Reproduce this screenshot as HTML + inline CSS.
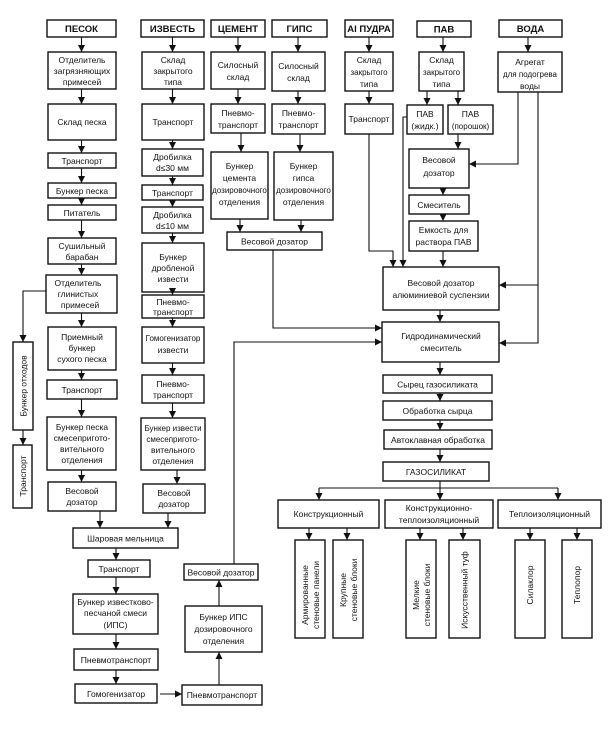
<!DOCTYPE html>
<html><head><meta charset="utf-8"><style>
html,body{margin:0;padding:0;background:#fff;}
svg{display:block;}
text{font-family:"Liberation Sans","DejaVu Sans",sans-serif;font-size:8.5px;fill:#111;text-anchor:middle;}
.b{font-weight:bold;font-size:9.5px;}
.s{font-size:8px;}
rect{fill:#fff;stroke:#111;stroke-width:1.4;}
line,polyline{stroke:#111;stroke-width:1.1;fill:none;}
</style></head><body>
<svg width="615" height="738" viewBox="0 0 615 738" xmlns="http://www.w3.org/2000/svg">
<defs><marker id="a" viewBox="0 0 8 8" refX="8" refY="4" markerWidth="7" markerHeight="7" orient="auto" markerUnits="userSpaceOnUse"><path d="M0,0 L8,4 L0,8 z" fill="#111"/></marker></defs>

<!-- Column 1: ПЕСОК -->
<rect x="47" y="20" width="69" height="17"/><text class="b" x="81.5" y="32">ПЕСОК</text>
<rect x="48" y="52" width="68" height="37"/><text x="82" y="63">Отделитель</text><text x="82" y="74">загрязняющих</text><text x="82" y="85">примесей</text>
<rect x="48" y="104" width="68" height="36"/><text x="82" y="125">Склад песка</text>
<rect x="48" y="153" width="68" height="15"/><text x="82" y="164">Транспорт</text>
<rect x="48" y="183" width="68" height="15"/><text x="82" y="194">Бункер песка</text>
<rect x="48" y="205" width="68" height="15"/><text x="82" y="216">Питатель</text>
<rect x="48" y="238" width="68" height="26"/><text x="82" y="249">Сушильный</text><text x="82" y="260">барабан</text>
<rect x="46" y="275" width="71" height="38"/><text x="78" y="286">Отделитель</text><text x="78" y="297">глинистых</text><text x="80" y="308">примесей</text>
<rect x="48" y="327" width="68" height="43"/><text x="82" y="340">Приемный</text><text x="82" y="351">бункер</text><text x="82" y="362">сухого песка</text>
<rect x="47" y="380" width="70" height="19"/><text x="82" y="393">Транспорт</text>
<rect x="47" y="417" width="69" height="53"/><text x="82" y="430">Бункер песка</text><text x="82" y="441">смесепригото-</text><text x="82" y="452">вительного</text><text x="82" y="463">отделения</text>
<rect x="48" y="482" width="68" height="29"/><text x="82" y="494">Весовой</text><text x="82" y="505">дозатор</text>
<line x1="81.5" y1="37" x2="81.5" y2="52" marker-end="url(#a)"/>
<line x1="81.5" y1="89" x2="81.5" y2="104" marker-end="url(#a)"/>
<line x1="81.5" y1="140" x2="81.5" y2="153" marker-end="url(#a)"/>
<line x1="81.5" y1="168" x2="81.5" y2="183" marker-end="url(#a)"/>
<line x1="81.5" y1="198" x2="81.5" y2="205" marker-end="url(#a)"/>
<line x1="81.5" y1="220" x2="81.5" y2="238" marker-end="url(#a)"/>
<line x1="81.5" y1="264" x2="81.5" y2="275" marker-end="url(#a)"/>
<line x1="81.5" y1="313" x2="81.5" y2="327" marker-end="url(#a)"/>
<line x1="81.5" y1="370" x2="81.5" y2="380" marker-end="url(#a)"/>
<line x1="81.5" y1="399" x2="81.5" y2="417" marker-end="url(#a)"/>
<line x1="81.5" y1="470" x2="81.5" y2="482" marker-end="url(#a)"/>

<!-- waste -->
<polyline points="46,291 23,291 23,342" marker-end="url(#a)"/>
<rect x="13" y="342" width="20" height="88"/><text transform="translate(26.5,386) rotate(-90)">Бункер отходов</text>
<line x1="23" y1="430" x2="23" y2="445" marker-end="url(#a)"/>
<rect x="13" y="445" width="19" height="63"/><text transform="translate(26,476) rotate(-90)">Транспорт</text>

<!-- Column 2: ИЗВЕСТЬ -->
<rect x="141" y="20" width="63" height="17"/><text class="b" x="172.5" y="32">ИЗВЕСТЬ</text>
<rect x="142" y="52" width="62" height="37"/><text x="173" y="63">Склад</text><text x="173" y="74">закрытого</text><text x="173" y="85">типа</text>
<rect x="142" y="104" width="62" height="36"/><text x="173" y="125">Транспорт</text>
<rect x="142" y="149" width="61" height="27"/><text x="172.5" y="160">Дробилка</text><text x="172.5" y="171">d≤30 мм</text>
<rect x="142" y="185" width="61" height="15"/><text x="172.5" y="196">Транспорт</text>
<rect x="142" y="207" width="61" height="26"/><text x="172.5" y="218">Дробилка</text><text x="172.5" y="229">d≤10 мм</text>
<rect x="142" y="243" width="62" height="49"/><text x="173" y="260">Бункер</text><text x="173" y="271">дробленой</text><text x="173" y="282">извести</text>
<rect x="142" y="295" width="62" height="23"/><text x="173" y="305">Пневмо-</text><text x="173" y="315">транспорт</text>
<rect x="142" y="327" width="62" height="36"/><text class="s" x="173" y="341">Гомогенизатор</text><text x="173" y="353">извести</text>
<rect x="142" y="375" width="62" height="28"/><text x="173" y="387">Пневмо-</text><text x="173" y="398">транспорт</text>
<rect x="141" y="418" width="64" height="52"/><text class="s" x="173" y="431">Бункер извести</text><text class="s" x="173" y="442">смесепригото-</text><text x="173" y="453">вительного</text><text x="173" y="464">отделения</text>
<rect x="143" y="484" width="62" height="29"/><text x="174" y="496">Весовой</text><text x="174" y="507">дозатор</text>
<line x1="172.5" y1="37" x2="172.5" y2="52" marker-end="url(#a)"/>
<line x1="172.5" y1="89" x2="172.5" y2="104" marker-end="url(#a)"/>
<line x1="172.5" y1="140" x2="172.5" y2="149" marker-end="url(#a)"/>
<line x1="172.5" y1="176" x2="172.5" y2="185" marker-end="url(#a)"/>
<line x1="172.5" y1="200" x2="172.5" y2="207" marker-end="url(#a)"/>
<line x1="172.5" y1="233" x2="172.5" y2="243" marker-end="url(#a)"/>
<line x1="172.5" y1="292" x2="172.5" y2="295" marker-end="url(#a)"/>
<line x1="172.5" y1="318" x2="172.5" y2="327" marker-end="url(#a)"/>
<line x1="172.5" y1="363" x2="172.5" y2="375" marker-end="url(#a)"/>
<line x1="172.5" y1="403" x2="172.5" y2="418" marker-end="url(#a)"/>
<line x1="177" y1="470" x2="177" y2="484" marker-end="url(#a)"/>

<!-- mill chain -->
<line x1="100" y1="511" x2="100" y2="528" marker-end="url(#a)"/>
<line x1="168" y1="513" x2="168" y2="528" marker-end="url(#a)"/>
<rect x="73" y="528" width="105" height="20"/><text x="125.5" y="541.5">Шаровая мельница</text>
<line x1="116" y1="548" x2="116" y2="560" marker-end="url(#a)"/>
<rect x="88" y="560" width="62" height="17"/><text x="119" y="572">Транспорт</text>
<line x1="116" y1="577" x2="116" y2="594" marker-end="url(#a)"/>
<rect x="73" y="594" width="85" height="40"/><text x="115.5" y="605">Бункер известково-</text><text x="115.5" y="616">песчаной смеси</text><text x="115.5" y="628">(ИПС)</text>
<line x1="116" y1="634" x2="116" y2="649" marker-end="url(#a)"/>
<rect x="74" y="649" width="84" height="21"/><text x="116" y="663">Пневмотранспорт</text>
<line x1="116" y1="670" x2="116" y2="684" marker-end="url(#a)"/>
<rect x="75" y="684" width="82" height="19"/><text x="116" y="697">Гомогенизатор</text>
<line x1="160" y1="694" x2="182" y2="694" marker-end="url(#a)"/>
<rect x="182" y="685" width="80" height="20"/><text x="222" y="698">Пневмотранспорт</text>
<line x1="219" y1="685" x2="219" y2="652" marker-end="url(#a)"/>
<rect x="185" y="606" width="77" height="46"/><text x="223.5" y="620">Бункер ИПС</text><text x="223.5" y="632">дозировочного</text><text x="223.5" y="644">отделения</text>
<line x1="219" y1="606" x2="219" y2="580" marker-end="url(#a)"/>
<rect x="184" y="564" width="74" height="16"/><text x="221" y="575.5">Весовой дозатор</text>
<polyline points="234,564 234,342 382,342" marker-end="url(#a)"/>

<!-- ЦЕМЕНТ -->
<rect x="211" y="20" width="54" height="17"/><text class="b" x="238" y="32">ЦЕМЕНТ</text>
<rect x="211" y="52" width="54" height="37"/><text x="238" y="68">Силосный</text><text x="238" y="80">склад</text>
<rect x="211" y="104" width="54" height="29"/><text x="238" y="116">Пневмо-</text><text x="238" y="128">транспорт</text>
<rect x="211" y="152" width="57" height="67"/><text x="239.5" y="169">Бункер</text><text x="239.5" y="181">цемента</text><text class="s" x="239.5" y="193">дозировочного</text><text x="239.5" y="205">отделения</text>
<line x1="238" y1="37" x2="238" y2="52" marker-end="url(#a)"/>
<line x1="238" y1="89" x2="238" y2="104" marker-end="url(#a)"/>
<line x1="241" y1="133" x2="241" y2="152" marker-end="url(#a)"/>
<line x1="240" y1="219" x2="240" y2="232" marker-end="url(#a)"/>

<!-- ГИПС -->
<rect x="272" y="20" width="55" height="17"/><text class="b" x="299.5" y="32">ГИПС</text>
<rect x="272" y="52" width="53" height="39"/><text x="298.5" y="69">Силосный</text><text x="298.5" y="81">склад</text>
<rect x="272" y="104" width="53" height="30"/><text x="298.5" y="116">Пневмо-</text><text x="298.5" y="128">транспорт</text>
<rect x="274" y="152" width="59" height="68"/><text x="303.5" y="169">Бункер</text><text x="303.5" y="181">гипса</text><text class="s" x="303.5" y="193">дозировочного</text><text x="303.5" y="205">отделения</text>
<line x1="298" y1="37" x2="298" y2="52" marker-end="url(#a)"/>
<line x1="298" y1="91" x2="298" y2="104" marker-end="url(#a)"/>
<line x1="300" y1="134" x2="300" y2="152" marker-end="url(#a)"/>
<line x1="301" y1="220" x2="301" y2="232" marker-end="url(#a)"/>

<rect x="227" y="232" width="95" height="18"/><text x="274.5" y="244.5">Весовой дозатор</text>
<polyline points="273,250 273,328 382,328" marker-end="url(#a)"/>

<!-- Al ПУДРА -->
<rect x="345" y="20" width="48" height="17"/><text class="b" x="369" y="32">Al ПУДРА</text>
<rect x="345" y="52" width="48" height="39"/><text x="369" y="63">Склад</text><text class="s" x="369" y="75">закрытого</text><text x="369" y="87">типа</text>
<rect x="345" y="104" width="48" height="30"/><text x="369" y="122">Транспорт</text>
<line x1="369" y1="37" x2="369" y2="52" marker-end="url(#a)"/>
<line x1="369" y1="91" x2="369" y2="104" marker-end="url(#a)"/>
<polyline points="369,134 369,251 393,251 393,267" marker-end="url(#a)"/>

<!-- ПАВ -->
<rect x="417" y="21" width="54" height="16"/><text class="b" x="444" y="32.5">ПАВ</text>
<rect x="419" y="52" width="45" height="39"/><text x="441.5" y="63">Склад</text><text class="s" x="441.5" y="75">закрытого</text><text x="441.5" y="87">типа</text>
<line x1="443" y1="37" x2="443" y2="52" marker-end="url(#a)"/>
<line x1="427" y1="91" x2="427" y2="105" marker-end="url(#a)"/>
<line x1="458" y1="91" x2="458" y2="105" marker-end="url(#a)"/>
<rect x="407" y="105" width="36" height="29"/><text x="425" y="117">ПАВ</text><text x="425" y="129">(жидк.)</text>
<rect x="448" y="105" width="45" height="29"/><text x="470.5" y="117">ПАВ</text><text class="s" x="470.5" y="129">(порошок)</text>
<polyline points="407,117 403,117 403,267" marker-end="url(#a)"/>
<line x1="458" y1="134" x2="458" y2="149" marker-end="url(#a)"/>
<rect x="409" y="149" width="60" height="39"/><text x="439" y="163">Весовой</text><text x="439" y="176">дозатор</text>
<line x1="443" y1="188" x2="443" y2="195" marker-end="url(#a)"/>
<rect x="409" y="195" width="60" height="19"/><text x="439" y="208">Смеситель</text>
<line x1="443" y1="214" x2="443" y2="221" marker-end="url(#a)"/>
<rect x="409" y="221" width="69" height="30"/><text x="443.5" y="233">Емкость для</text><text x="443.5" y="245">раствора ПАВ</text>
<line x1="443" y1="251" x2="443" y2="267" marker-end="url(#a)"/>

<!-- ВОДА -->
<rect x="499" y="20" width="63" height="17"/><text class="b" x="530.5" y="32">ВОДА</text>
<rect x="498" y="52" width="64" height="40"/><text x="530" y="65">Агрегат</text><text class="s" x="530" y="77">для подогрева</text><text x="530" y="89">воды</text>
<line x1="528" y1="37" x2="528" y2="52" marker-end="url(#a)"/>
<polyline points="518,92 518,164 469,164" marker-end="url(#a)"/>
<polyline points="538,92 538,343 499,343" marker-end="url(#a)"/>
<line x1="538" y1="285" x2="499" y2="285" marker-end="url(#a)"/>

<!-- dosing Al suspension & mixer -->
<rect x="383" y="267" width="116" height="43"/><text x="441" y="286">Весовой дозатор</text><text x="441" y="298">алюминиевой суспензии</text>
<rect x="382" y="322" width="117" height="40"/><text x="441" y="339">Гидродинамический</text><text x="441" y="351">смеситель</text>
<line x1="440" y1="310" x2="440" y2="322" marker-end="url(#a)"/>
<line x1="440" y1="362" x2="440" y2="375" marker-end="url(#a)"/>

<!-- lower chain -->
<rect x="383" y="375" width="109" height="18"/><text x="437.5" y="387.5">Сырец газосиликата</text>
<line x1="440" y1="393" x2="440" y2="401" marker-end="url(#a)"/>
<rect x="383" y="401" width="109" height="19"/><text x="437.5" y="414">Обработка сырца</text>
<line x1="440" y1="420" x2="440" y2="430" marker-end="url(#a)"/>
<rect x="384" y="430" width="108" height="19"/><text x="438" y="443">Автоклавная обработка</text>
<line x1="440" y1="449" x2="440" y2="462" marker-end="url(#a)"/>
<rect x="383" y="462" width="106" height="19"/><text x="436" y="475">ГАЗОСИЛИКАТ</text>
<line x1="440" y1="481" x2="440" y2="488"/>
<line x1="319" y1="488" x2="558" y2="488"/>
<line x1="319" y1="488" x2="319" y2="500" marker-end="url(#a)"/>
<line x1="440" y1="488" x2="440" y2="500" marker-end="url(#a)"/>
<line x1="558" y1="488" x2="558" y2="500" marker-end="url(#a)"/>

<rect x="278" y="500" width="101" height="28"/><text x="328.5" y="517">Конструкционный</text>
<rect x="385" y="500" width="108" height="28"/><text x="439" y="511">Конструкционно-</text><text x="439" y="523">теплоизоляционный</text>
<rect x="498" y="500" width="103" height="28"/><text x="549.5" y="517">Теплоизоляционный</text>

<line x1="309" y1="528" x2="309" y2="540" marker-end="url(#a)"/>
<line x1="347" y1="528" x2="347" y2="540" marker-end="url(#a)"/>
<line x1="420" y1="528" x2="420" y2="540" marker-end="url(#a)"/>
<line x1="463" y1="528" x2="463" y2="540" marker-end="url(#a)"/>
<line x1="530" y1="528" x2="530" y2="540" marker-end="url(#a)"/>
<line x1="577" y1="528" x2="577" y2="540" marker-end="url(#a)"/>

<rect x="295" y="540" width="30" height="98"/>
<text transform="translate(310,595) rotate(-90)"><tspan x="0" y="-2">Армированные</tspan><tspan x="0" y="9">стеновые панели</tspan></text>
<rect x="333" y="540" width="30" height="98"/>
<text transform="translate(348,590) rotate(-90)"><tspan x="0" y="-2">Крупные</tspan><tspan x="0" y="9">стеновые блоки</tspan></text>
<rect x="406" y="540" width="30" height="98"/>
<text transform="translate(421,595) rotate(-90)"><tspan x="0" y="-2">Мелкие</tspan><tspan x="0" y="9">стеновые блоки</tspan></text>
<rect x="449" y="540" width="31" height="98"/>
<text transform="translate(467.5,590) rotate(-90)">Искусственный туф</text>
<rect x="515" y="540" width="30" height="98"/>
<text transform="translate(533,585) rotate(-90)">Силаклор</text>
<rect x="562" y="540" width="30" height="98"/>
<text transform="translate(580,585) rotate(-90)">Теплопор</text>
</svg>
</body></html>
